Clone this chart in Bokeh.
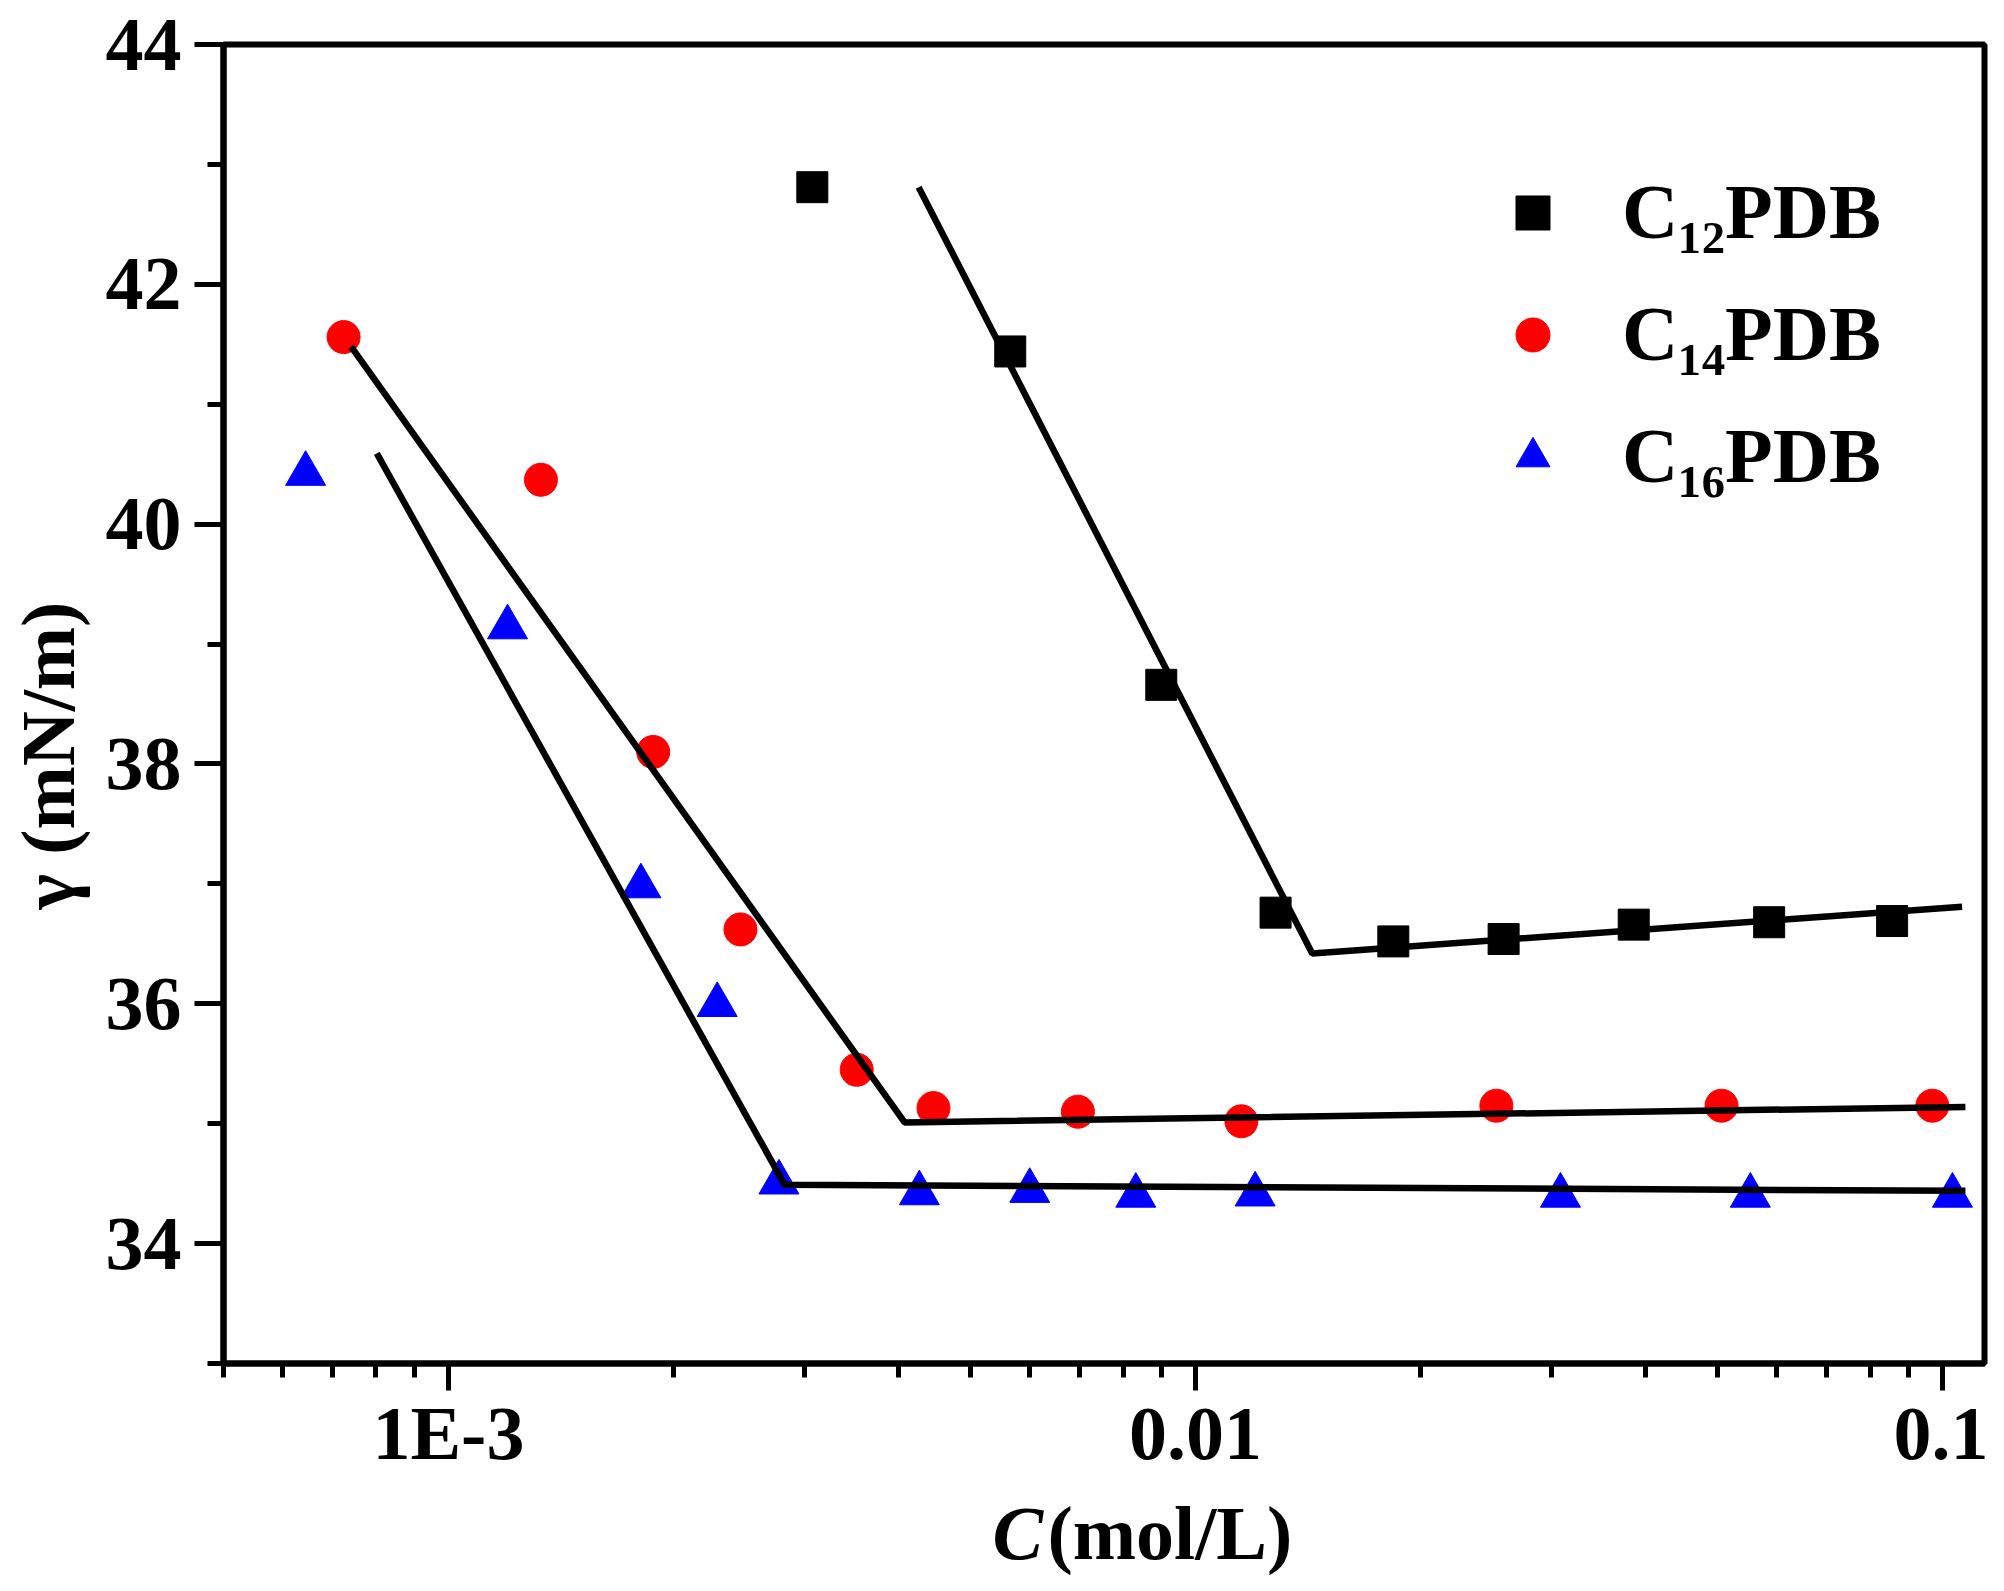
from math import pi

from bokeh.embed import file_html
from bokeh.layouts import column
from bokeh.models import FixedTicker, Label, Legend, LegendItem
from bokeh.plotting import figure
from bokeh.resources import INLINE

# surface tension vs concentration
c12_conc = [3.07e-3, 5.65e-3, 9.0e-3, 0.0128, 0.0184, 0.02585, 0.0386, 0.0586, 0.0856]
c12_gamma = [42.81, 41.44, 38.66, 36.76, 36.52, 36.54, 36.66, 36.68, 36.69]

c14_conc = [7.24e-4, 1.33e-3, 1.88e-3, 2.46e-3, 3.52e-3, 4.46e-3, 6.96e-3, 0.01152, 0.02528, 0.0506, 0.0969]
c14_gamma = [41.56, 40.37, 38.10, 36.62, 35.45, 35.13, 35.10, 35.02, 35.15, 35.15, 35.15]

c16_conc = [6.44e-4, 1.20e-3, 1.81e-3, 2.29e-3, 2.77e-3, 4.27e-3, 6.0e-3, 8.32e-3, 0.01202, 0.0308, 0.0553, 0.1031]
c16_gamma = [40.42, 39.14, 36.98, 35.99, 34.51, 34.42, 34.44, 34.40, 34.41, 34.40, 34.40, 34.40]

# fitted straight segments (start, break point, end)
fit12_conc = [4.26e-3, 0.01433, 0.1062]
fit12_gamma = [42.81, 36.42, 36.81]
fit14_conc = [7.41e-4, 4.08e-3, 0.1073]
fit14_gamma = [41.48, 35.01, 35.14]
fit16_conc = [8.02e-4, 2.82e-3, 0.1073]
fit16_gamma = [40.59, 34.49, 34.44]

series_names = ["C₁₂PDB", "C₁₄PDB", "C₁₆PDB"]

x_major = [0.001, 0.01, 0.1]
x_minor = [m * 10.0 ** e for e in (-4, -3, -2) for m in range(2, 10)]
x_labels = {0.001: "1E-3", 0.01: "0.01", 0.1: "0.1"}
y_major = [34, 36, 38, 40, 42, 44]
y_minor = [33, 35, 37, 39, 41, 43]

FONT = "Liberation Serif"

p = figure(
    width=1988,
    height=1480,
    x_axis_type="log",
    x_range=(5e-4, 0.1138),
    y_range=(33, 44),
    output_backend="svg",
    toolbar_location=None,
    min_border_left=223,
    min_border_right=4,
    min_border_top=44,
    min_border_bottom=117,
)
p.grid.visible = False
p.outline_line_color = "black"
p.outline_line_width = 6

r12 = p.scatter(c12_conc, c12_gamma, marker="square", size=31, color="black")
r14 = p.scatter(c14_conc, c14_gamma, marker="circle", size=33, color="red")
r16 = p.scatter(c16_conc, c16_gamma, marker="triangle", size=40, color="blue")

for xs, ys in [(fit12_conc, fit12_gamma), (fit14_conc, fit14_gamma), (fit16_conc, fit16_gamma)]:
    p.line(xs, ys, line_color="black", line_width=6.5)

for ax in (p.xaxis[0], p.yaxis[0]):
    ax.axis_line_width = 6
    ax.major_tick_line_width = 5
    ax.minor_tick_line_width = 5
    ax.major_tick_in = 0
    ax.minor_tick_in = 0
    ax.major_label_text_font = FONT
    ax.major_label_text_font_style = "bold"
    ax.major_label_text_font_size = "76px"
    ax.major_label_text_color = "black"

p.xaxis.ticker = FixedTicker(ticks=x_major, minor_ticks=x_minor)
p.xaxis.major_label_overrides = x_labels
p.xaxis.major_tick_out = 27
p.xaxis.minor_tick_out = 14
p.xaxis.major_label_standoff = 0

p.yaxis.ticker = FixedTicker(ticks=y_major, minor_ticks=y_minor)
p.yaxis.major_tick_out = 29
p.yaxis.minor_tick_out = 16
p.yaxis.major_label_standoff = 13

# y title in its own side panel
p.add_layout(Label(x=29, y=608, x_units="screen", y_units="screen", text="γ (mN/m)",
                   angle=pi / 2, text_align="center", text_baseline="alphabetic",
                   text_color="black", text_font=FONT, text_font_style="bold",
                   text_font_size="76px"), "left")

legend = Legend(
    items=[LegendItem(label=n, renderers=[r]) for n, r in zip(series_names, [r12, r14, r16])],
    location=(1267, 857),
    glyph_width=85,
    glyph_height=85,
    label_height=100,
    spacing=22,
    padding=0,
    margin=0,
    label_standoff=47,
    border_line_color=None,
    background_fill_alpha=0,
    label_text_font=FONT,
    label_text_font_style="bold",
    label_text_font_size="78px",
    label_text_color="black",
)
p.add_layout(legend)

# strip under the plot for the x title (italic C + bold unit)
t = figure(width=1988, height=95, x_range=(0, 1988), y_range=(0, 95),
           output_backend="svg", toolbar_location=None, min_border=0,
           x_axis_location=None, y_axis_location=None)
t.grid.visible = False
t.outline_line_color = None
t.add_layout(Label(x=769, y=43, x_units="screen", y_units="screen", text="C",
                   text_align="left", text_baseline="alphabetic", text_color="black",
                   text_font=FONT, text_font_style="bold italic", text_font_size="76px"))
t.add_layout(Label(x=824, y=43, x_units="screen", y_units="screen", text="(mol/L)",
                   text_align="left", text_baseline="alphabetic", text_color="black",
                   text_font=FONT, text_font_style="bold", text_font_size="76px"))

page = column(p, t, spacing=0)
open("out.html", "w").write(file_html(page, INLINE))
